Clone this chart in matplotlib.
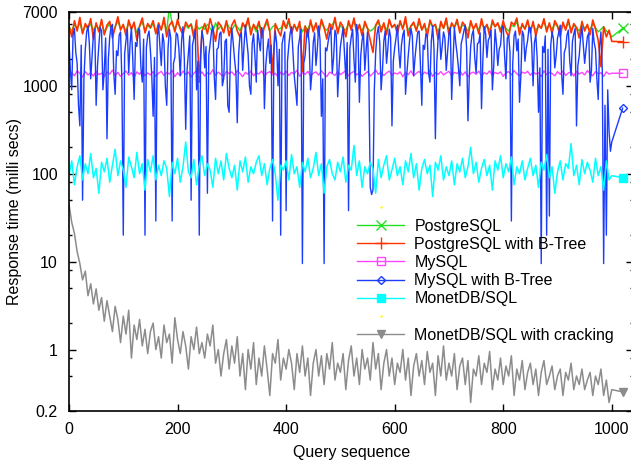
"""Response time per query for the different database setups (log scale)"""

import matplotlib
matplotlib.use("Agg")
import matplotlib.pyplot as plt
from matplotlib.lines import Line2D
from matplotlib.ticker import FixedLocator, NullFormatter

plt.rcParams['font.family'] = ['Liberation Sans', 'DejaVu Sans']

# query sequence: every 5th query, plus the summary point drawn at 1020
queries = list(range(0, 1001, 5)) + [1020]
# the B-Tree MySQL run is read at a finer step (2.5 queries)
queries_fine = [i * 2.5 for i in range(401)] + [1020]

postgres = [
    4700, 4200, 5000, 4400, 5200, 4000, 4800, 4500, 5100, 4300,
    4900, 4400, 5300, 4100, 4600, 5100, 3900, 4700, 5400, 4500,
    4800, 4200, 5200, 4500, 5000, 4000, 4700, 5300, 4300, 4900,
    4500, 5100, 4100, 4800, 4400, 5400, 4200, 8000, 5000, 4500,
    5200, 4600, 4200, 4900, 4500, 5100, 4000, 4800, 4400, 4700,
    4400, 5000, 4500, 4100, 5200, 4400, 4800, 4200, 5300, 4600,
    4300, 4900, 4700, 4200, 5100, 4500, 5400, 4400, 4800, 4100,
    5000, 4400, 4600, 5200, 4200, 4700, 4900, 4400, 4500, 5100,
    4500, 5300, 4300, 4800, 4500, 5000, 4100, 4700, 4400, 5200,
    4600, 4900, 4200, 5300, 4500, 4300, 4800, 5000, 5400, 4400,
    4800, 4500, 4300, 5100, 4700, 5400, 4400, 4900, 4200, 5000,
    4500, 4200, 4400, 4800, 5200, 4600, 5000, 4300, 5300, 4700,
    4900, 4400, 5100, 4600, 5400, 4300, 4800, 5000, 4400, 5200,
    4400, 4800, 4200, 5200, 4700, 4900, 4100, 5100, 4500, 5300,
    4300, 5000, 4600, 5300, 4400, 4900, 4700, 4200, 5200, 4500,
    4800, 4400, 5100, 4600, 4900, 4300, 5200, 4700, 5000, 4500,
    5100, 4500, 4200, 4900, 4700, 5300, 4400, 4800, 4500, 5200,
    4400, 5000, 4300, 4700, 4600, 5300, 4500, 4900, 4400, 5100,
    4700, 4300, 5000, 4500, 5200, 4400, 4800, 4600, 4200, 5000,
    4500, 4800, 4300, 5100, 4600, 4100, 4400, 4700, 4200, 4000,
    3600, 4500,
]

postgres_btree = [
    4800, 3600, 5500, 4200, 6000, 3900, 5100, 4500, 5800, 3400,
    5200, 4100, 5700, 3800, 4900, 5400, 3500, 4600, 6100, 4300,
    5000, 3700, 5600, 4400, 5300, 3300, 4800, 5900, 4000, 5100,
    4600, 5500, 3900, 5200, 4300, 6000, 3600, 4900, 5400, 4100,
    5700, 4400, 3800, 5300, 4700, 5000, 3500, 5600, 1100, 4200,
    5100, 3900, 5800, 4500, 3200, 5300, 4800, 4000, 5500, 3700,
    4900, 5600, 4200, 3600, 5200, 4600, 5900, 3800, 5000, 4400,
    5400, 3500, 4700, 5700, 4100, 1400, 5100, 4300, 3700, 5500,
    4500, 5800, 3900, 5000, 4200, 5400, 1450, 4800, 3600, 5600,
    4100, 5200, 3800, 5700, 4600, 3400, 5100, 4400, 6000, 3900,
    5300, 4700, 3600, 5500, 4300, 5900, 4000, 5000, 3700, 5400,
    4500, 3300, 2400, 4900, 5600, 4100, 5200, 3800, 5700, 4600,
    5000, 3900, 5500, 4400, 6100, 3700, 4800, 5300, 4200, 5800,
    4300, 5100, 3600, 5600, 4700, 5000, 3400, 5400, 4500, 5900,
    3800, 5200, 4600, 5700, 4000, 5300, 4800, 3500, 5500, 4400,
    5100, 3900, 5800, 4300, 5000, 3700, 5600, 4700, 5200, 4100,
    5500, 4200, 3600, 5300, 4900, 5900, 3800, 5100, 4400, 5600,
    4000, 5400, 3700, 5000, 4500, 5800, 4100, 5200, 3900, 5500,
    4800, 3600, 5300, 4300, 5700, 4000, 5100, 4600, 3500, 5400,
    4200, 5000, 3800, 5600, 4400, 3300, 1650, 4700, 3600, 4300,
    3200, 3170,
]

mysql = [
    1350, 1420, 1300, 1480, 1380, 1260, 1450, 1330, 1400, 1290,
    1460, 1340, 1390, 1270, 1440, 1360, 1510, 1310, 1420, 1280,
    1380, 1470, 1320, 1410, 1250, 1440, 1350, 1490, 1300, 1400,
    1330, 1450, 1280, 1390, 1460, 1310, 1420, 1360, 1500, 1270,
    1410, 1300, 1470, 1350, 1430, 1260, 1390, 1480, 1320, 1440,
    1290, 1400, 1360, 1520, 1310, 1430, 1340, 1280, 1460, 1370,
    1440, 1320, 1490, 1380, 1270, 1420, 1350, 1470, 1300, 1410,
    1360, 1480, 1290, 1400, 1450, 1330, 1390, 1260, 1430, 1340,
    1470, 1310, 1420, 1370, 1500, 1280, 1410, 1350, 1460, 1300,
    1390, 1440, 1320, 1480, 1360, 1270, 1430, 1380, 1310, 1450,
    1340, 1410, 1490, 1300, 1400, 1460, 1330, 1420, 1280, 1370,
    1450, 1290, 1380, 1510, 1350, 1430, 1310, 1400, 1470, 1320,
    1400, 1360, 1440, 1270, 1420, 1340, 1480, 1300, 1390, 1460,
    1310, 1430, 1370, 1490, 1280, 1410, 1350, 1450, 1330, 1400,
    1460, 1300, 1420, 1380, 1500, 1320, 1440, 1260, 1390, 1430,
    1350, 1470, 1290, 1410, 1360, 1480, 1310, 1420, 1370, 1440,
    1280, 1400, 1450, 1330, 1490, 1370, 1300, 1430, 1390, 1460,
    1320, 1440, 1360, 1410, 1270, 1480, 1340, 1420, 1380, 1300,
    1450, 1350, 1470, 1310, 1400, 1440, 1290, 1460, 1360, 1420,
    1330, 1490, 1380, 1300, 1450, 1370, 1410, 1280, 1440, 1360,
    1390, 1390,
]

mysql_btree = [
    3200, 1500, 900, 3800, 4500, 2400, 1800, 600, 350, 2900,
    50, 1200, 2600, 4100, 4800, 3000, 1200, 2200, 3900, 4400,
    600, 1700, 2900, 4600, 4200, 900, 1500, 3500, 250, 2000,
    3600, 4700, 5000, 1400, 800, 2500, 2200, 3800, 4100, 1100,
    20, 2300, 3300, 4400, 1400, 3000, 4600, 2000, 700, 3100,
    2800, 4500, 4300, 1600, 1100, 3400, 20, 2700, 3700, 4200,
    2500, 1300, 450, 2100, 29, 3600, 4900, 2800, 1700, 3900,
    3100, 1000, 600, 2700, 4400, 3500, 29, 1800, 2100, 4000,
    3800, 2600, 1300, 3300, 4700, 2000, 320, 1500, 2400, 3700,
    50, 2900, 3500, 4300, 900, 1900, 20, 2300, 4200, 3400,
    1600, 2800, 60, 2200, 3000, 4100, 4800, 1300, 700, 2600,
    2700, 3900, 4100, 1000, 1200, 3200, 3400, 600, 500, 2400,
    4500, 3100, 2000, 1400, 380, 2300, 3700, 4000, 1500, 2900,
    4900, 3300, 2300, 1000, 800, 3000, 3900, 2200, 1100, 4300,
    3300, 2500, 4600, 3800, 550, 1700, 2600, 3400, 1800, 2900,
    29, 2400, 4200, 3100, 1000, 2600, 20, 3000, 3600, 4100,
    38, 1900, 2900, 4000, 4700, 2500, 1300, 900, 600, 2800,
    3500, 4400, 9.5, 1800, 2200, 3600, 4400, 3000, 900, 1400,
    3100, 4000, 1700, 2600, 4800, 3300, 450, 1200, 9.5, 2700,
    2500, 3200, 3900, 4600, 1400, 2100, 4300, 3700, 750, 1600,
    2800, 3600, 4600, 2300, 1200, 3100, 38, 2700, 3600, 4400,
    2000, 1100, 5000, 3800, 650, 2200, 3300, 4000, 1500, 2600,
    4100, 1200, 70, 58, 65, 900, 2400, 3900, 4700, 3100,
    900, 1500, 3200, 4200, 1800, 2700, 4400, 3600, 350, 1900,
    2700, 3500, 4900, 2500, 1600, 2900, 3800, 4300, 800, 1400,
    2200, 3300, 4500, 3700, 1300, 2100, 3000, 4100, 4200, 1700,
    600, 2900, 2600, 3900, 3700, 1400, 1100, 3200, 4800, 2600,
    250, 1800, 3400, 4400, 2000, 2800, 4100, 3500, 1500, 2400,
    3900, 4600, 700, 1900, 4600, 3100, 2300, 1600, 1000, 3000,
    3500, 4200, 4900, 2700, 400, 1300, 2800, 3800, 4300, 2100,
    1400, 3000, 3100, 4000, 550, 2000, 4700, 3900, 2100, 3300,
    3600, 4300, 900, 1700, 4400, 3000, 1700, 2600, 2900, 4500,
    4800, 2200, 1200, 3500, 3700, 2400, 29, 1800, 3700, 4200,
    2500, 3400, 650, 1300, 4200, 3800, 1900, 2700, 3300, 4600,
    4600, 2900, 1000, 3100, 3800, 2100, 500, 1600, 9.5, 2800,
    2400, 3700, 20, 2600, 33, 2900, 4100, 3400, 1600, 2200,
    3500, 4100, 4900, 1400, 800, 2400, 2700, 3800, 4300, 1900,
    1300, 3200, 3900, 4500, 350, 1700, 2200, 3500, 4700, 2900,
    1800, 2600, 3600, 4000, 1100, 1500, 4500, 3100, 2600, 1200,
    700, 2800, 4100, 1500, 9.5, 600, 20, 900, 300, 180,
    230, 556,
]

monetdb = [
    95, 140, 75, 120, 160, 85, 130, 100, 170, 90,
    115, 60, 135, 105, 150, 80, 125, 190, 95, 140,
    110, 70, 155, 120, 90, 175, 100, 130, 65, 145,
    105, 160, 85, 125, 95, 140, 115, 55, 135, 100,
    150, 80, 120, 230, 105, 90, 145, 75, 125, 160,
    95, 130, 110, 70, 150, 100, 140, 85, 170, 115,
    90, 125, 65, 140, 105, 155, 80, 120, 100, 135,
    160, 95, 130, 75, 115, 145, 100, 50, 125, 110,
    140, 85, 165, 100, 120, 70, 135, 105, 150, 90,
    115, 175, 95, 130, 60, 120, 145, 100, 85, 135,
    105, 155, 80, 125, 110, 210, 95, 140, 70, 120,
    100, 135, 115, 60, 145, 90, 125, 160, 85, 110,
    150, 95, 120, 75, 140, 105, 170, 90, 130, 65,
    115, 145, 100, 125, 55, 135, 110, 160, 85, 120,
    95, 140, 75, 130, 105, 150, 90, 120, 200, 100,
    135, 80, 115, 145, 95, 125, 65, 140, 110, 160,
    90, 130, 105, 155, 75, 120, 100, 140, 85, 115,
    150, 95, 125, 70, 135, 110, 165, 90, 120, 60,
    105, 140, 85, 130, 115, 220, 95, 125, 75, 145,
    100, 135, 110, 80, 150, 95, 120, 65, 140, 85,
    95, 90,
]

cracking = [
    45, 28, 21, 13, 9.5, 6.2, 7.8, 4.1, 5.6, 3.3,
    4.9, 2.8, 3.9, 2.1, 3.6, 2.4, 1.6, 3.1, 2.2, 1.2,
    2.4, 1.5, 2.8, 0.8, 1.9, 1.3, 2.2, 1.1, 1.7, 0.9,
    1.6, 2.0, 1.0, 1.4, 0.8, 1.9, 1.2, 1.5, 0.7, 2.3,
    1.3, 0.9, 1.6, 1.1, 0.6, 1.4, 1.0, 1.8, 0.9, 1.2,
    0.8, 1.5, 1.1, 1.9, 0.7, 1.0, 0.5, 0.9, 1.3, 0.6,
    1.1, 0.7, 1.4, 0.5, 0.9, 0.35, 1.0, 0.6, 1.2, 0.4,
    0.8, 0.5, 1.1, 0.6, 0.3, 0.9, 0.7, 1.3, 0.45, 0.8,
    0.6, 1.0, 0.7, 0.35, 0.9, 0.55, 1.1, 0.5, 0.8, 0.3,
    0.7, 1.0, 0.5, 0.85, 0.4, 0.9, 0.6, 1.2, 0.45, 0.7,
    0.55, 0.9, 0.35, 0.75, 1.1, 0.5, 0.8, 0.4, 1.0, 0.6,
    0.8, 0.45, 1.2, 0.6, 0.9, 0.35, 0.7, 1.0, 0.5, 0.8,
    0.4, 0.7, 0.55, 1.0, 0.45, 0.8, 0.3, 0.65, 0.9, 0.5,
    0.75, 0.4, 0.95, 0.55, 0.7, 0.3, 0.85, 0.5, 1.1, 0.45,
    0.7, 0.5, 0.9, 0.35, 0.65, 0.8, 0.4, 0.75, 0.25, 0.6,
    0.5, 0.85, 0.4, 0.7, 0.55, 0.95, 0.35, 0.6, 0.45, 0.8,
    0.4, 0.65, 0.5, 0.85, 0.3, 0.6, 0.45, 0.75, 0.35, 0.55,
    0.7, 0.4, 0.6, 0.3, 0.55, 0.75, 0.4, 0.5, 0.65, 0.35,
    0.5, 0.6, 0.3, 0.55, 0.45, 0.7, 0.35, 0.5, 0.4, 0.6,
    0.35, 0.45, 0.55, 0.3, 0.5, 0.4, 0.6, 0.3, 0.45, 0.25,
    0.35, 0.33,
]

y_ticks = [0.2, 1, 10, 100, 1000, 7000]
y_tick_labels = ['0.2', '1', '10', '100', '1000', '7000']
x_ticks = [0, 200, 400, 600, 800, 1000]

# name, x, values, color, line width, marker, marker size, filled
series = [
    ('PostgreSQL', queries, postgres, '#22e022', 1.0, 'x', 7, True),
    ('PostgreSQL with B-Tree', queries, postgres_btree, '#ff3300', 1.2, '+', 8, True),
    ('MySQL', queries, mysql, '#ff44ff', 1.0, 's', 5.5, False),
    ('MySQL with B-Tree', queries_fine, mysql_btree, '#1a3cff', 1.0, 'D', 4.5, False),
    ('MonetDB/SQL', queries, monetdb, '#00ffff', 1.1, 's', 6, True),
    ('MonetDB/SQL with cracking', queries, cracking, '#8c8c8c', 1.1, 'v', 5.5, True),
]

fig = plt.figure(figsize=(6.31, 4.68), dpi=100)
ax = fig.add_axes([69 / 631, 1 - 411 / 468, (633.5 - 69) / 631, 399.5 / 468])

handles = []
for name, xs, vals, color, lw, marker, ms, filled in series:
    assert len(vals) == len(xs), name
    ax.plot(xs, vals, color=color, lw=lw)
    face = color if filled else 'none'
    ax.plot(xs[-1:], vals[-1:], linestyle='none', marker=marker, ms=ms,
            mfc=face, mec=color, mew=1.0)
    handles.append(Line2D([], [], color=color, lw=1.0, marker=marker, ms=ms,
                          mfc=face, mec=color, mew=1.0))

# gnuplot left two blank yellow entries in the key
blank = Line2D([], [], color='#ffff00', linestyle='none', marker='.', ms=1.5)
handles = [blank] + handles[:5] + [blank] + handles[5:]
labels = [' '] + [s[0] for s in series[:5]] + [' '] + [series[5][0]]
ax.legend(handles, labels, loc='upper left',
          bbox_to_anchor=(357 / 631, 1 - 200.5 / 468), bbox_transform=fig.transFigure,
          frameon=False, borderpad=0, borderaxespad=0, handlelength=2.95,
          handletextpad=0.65, labelspacing=0.2, fontsize=11.5)

ax.set_yscale('log')
ax.set_ylim(0.2, 7000)
ax.set_xlim(0, 1040)
ax.set_yticks(y_ticks)
ax.set_yticklabels(y_tick_labels)
ax.yaxis.set_minor_locator(FixedLocator([0.5, 0.8, 2, 5, 8, 20, 50, 80, 200, 500,
                                         800, 2000, 5000]))
ax.yaxis.set_minor_formatter(NullFormatter())
ax.set_xticks(x_ticks)

ax.tick_params(which='both', direction='in', top=True, right=True, width=1.0,
               labelsize=11.5, pad=8)
ax.tick_params(which='major', length=5)
ax.tick_params(which='minor', length=2.4)
for sp in ax.spines.values():
    sp.set_linewidth(1.2)

ax.set_xlabel('Query sequence', fontsize=11.5, labelpad=6)
ax.set_ylabel('Response time (milli secs)', fontsize=11.5, labelpad=0.5)

fig.savefig('out.png', dpi=100)
